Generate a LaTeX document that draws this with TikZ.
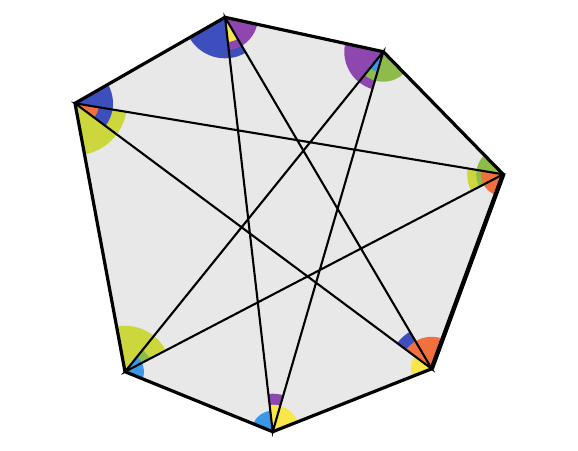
\documentclass[tikz,border=0pt]{standalone}
\usepackage{xcolor}
\usetikzlibrary{calc}

\definecolor{heptgray}{HTML}{E8E8E8}
\definecolor{wblue}{HTML}{3D4FBC}
\definecolor{wpurple}{HTML}{8E47AE}
\definecolor{wyellow}{HTML}{F9E64A}
\definecolor{wlime}{HTML}{CCD73E}
\definecolor{wgreen}{HTML}{8DBB4C}
\definecolor{worange}{HTML}{F2703E}
\definecolor{wsky}{HTML}{3A98E6}

\tikzset{
  heptedge/.style={line width=3.2pt},
  heptdiag/.style={line width=2.1pt}
}

% sector at #1 between the rays to #2 and #3, radius #4 (pt), colour #5
\newcommand{\anglesector}[5]{%
  \begin{scope}
    \clip (#1) -- ($(#1)!200pt!(#2)$) -- ($(#1)!200pt!(#3)$) -- cycle;
    \fill[#5] (#1) circle (#4pt);
  \end{scope}}

\begin{document}
\begin{tikzpicture}[x=1pt, y=-1pt]
    \useasboundingbox (0,0) rectangle (578,450);

    \coordinate (1) at (225,17.3);
    \coordinate (2) at (383.3,51.7);
    \coordinate (3) at (503.2,174.3);
    \coordinate (4) at (431.7,368.8);
    \coordinate (5) at (272.7,431.7);
    \coordinate (6) at (125,371.7);
    \coordinate (7) at (75,103.3);

    \fill[heptgray] (1) -- (2) -- (3) -- (4) -- (5) -- (6) -- (7) -- cycle;

    % angles of the seven triangles
    \anglesector{1}{7}{4}{41}{wblue}
    \anglesector{1}{5}{2}{33}{wpurple}
    \anglesector{1}{5}{4}{25}{wyellow}

    \anglesector{2}{1}{5}{39}{wpurple}
    \anglesector{2}{6}{3}{30}{wgreen}
    \anglesector{2}{6}{5}{21}{wsky}

    \anglesector{3}{7}{6}{36}{wlime}
    \anglesector{3}{2}{6}{27}{wgreen}
    \anglesector{3}{7}{4}{22}{worange}

    \anglesector{4}{1}{7}{43}{wblue}
    \anglesector{4}{1}{5}{21}{wyellow}
    \anglesector{4}{3}{7}{32}{worange}

    \anglesector{5}{1}{2}{38}{wpurple}
    \anglesector{5}{2}{6}{21}{wsky}
    \anglesector{5}{1}{4}{27}{wyellow}

    \anglesector{6}{7}{3}{46}{wlime}
    \anglesector{6}{2}{3}{28}{wgreen}
    \anglesector{6}{2}{5}{19}{wsky}

    \anglesector{7}{3}{6}{52}{wlime}
    \anglesector{7}{1}{4}{38}{wblue}
    \anglesector{7}{3}{4}{24}{worange}

    \draw[heptdiag] (1) -- (4) -- (7) -- (3) -- (6) -- (2) -- (5) -- cycle;

    \draw[heptedge] (1) -- (2) -- (3) -- (4) -- (5) -- (6) -- (7) -- cycle;
    \draw[heptedge, line width=4.4pt] (3) -- (4);
  \end{tikzpicture}
\end{document}
